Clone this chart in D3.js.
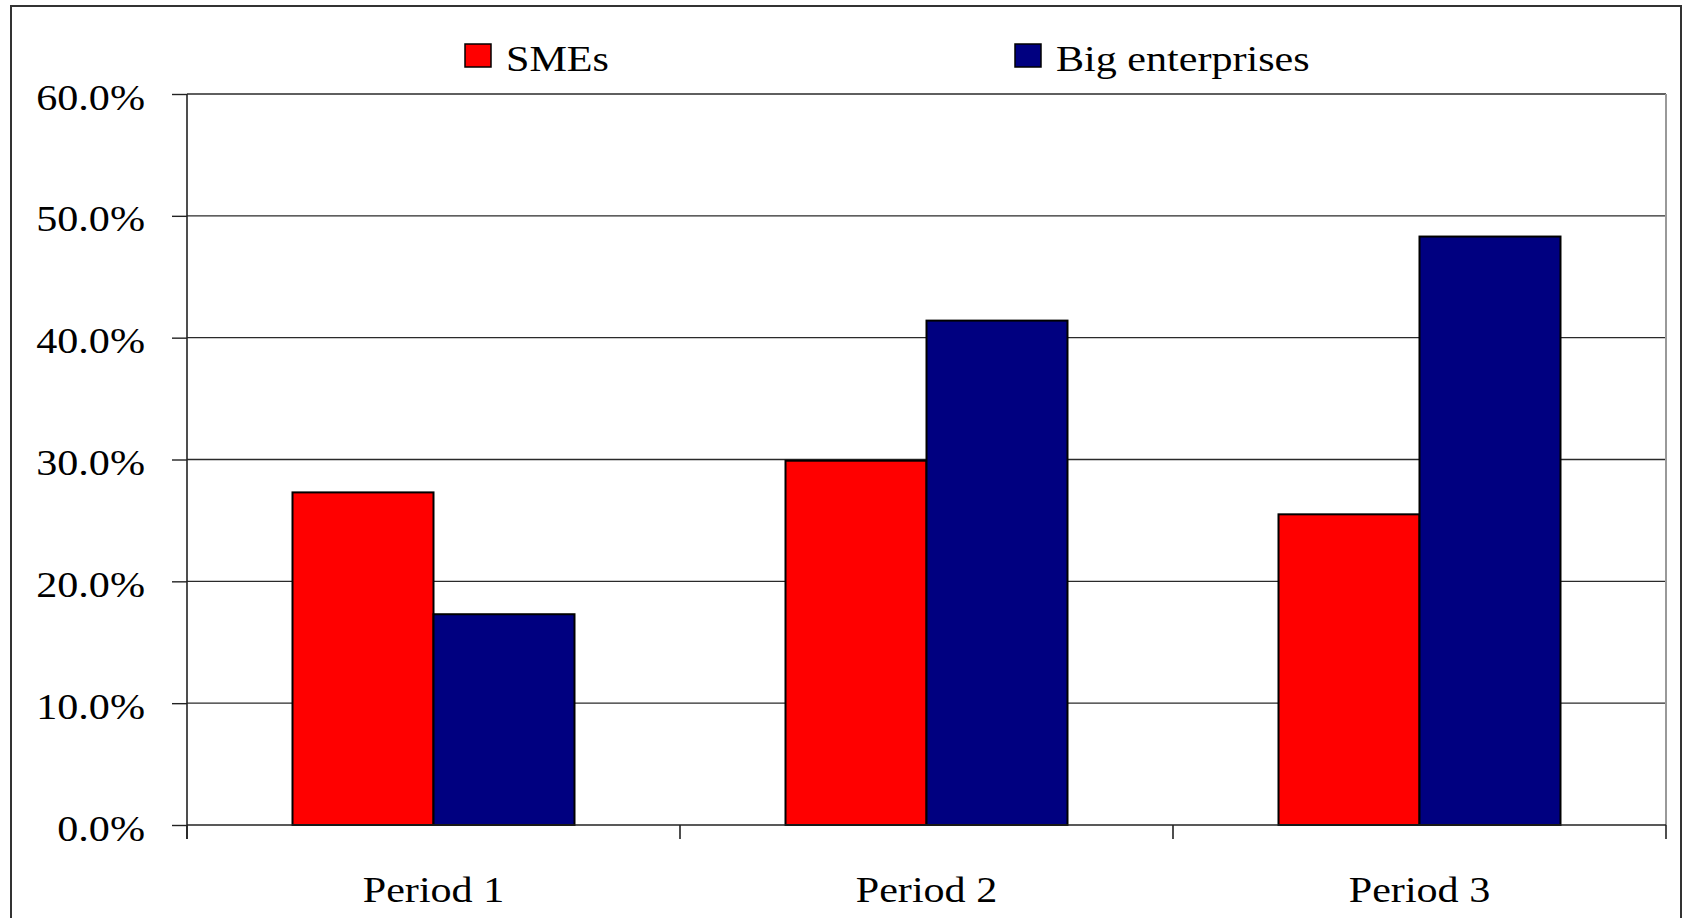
<!DOCTYPE html>
<html>
<head>
<meta charset="utf-8">
<script src="https://cdn.jsdelivr.net/npm/d3@7"></script>
<style>
  html, body { margin: 0; padding: 0; background: #fff; }
  svg { display: block; }
  text { font-family: "Liberation Serif", "Times New Roman", serif; fill: #000; }
</style>
</head>
<body>
<svg id="chart" width="1683" height="918"></svg>
<script>
// Share of enterprises per period
const periods = ["Period 1", "Period 2", "Period 3"];
const seriesNames = ["SMEs", "Big enterprises"];
const smeValues = [0.273, 0.299, 0.255];
const bigValues = [0.173, 0.414, 0.483];
const yTicks = [0, 0.1, 0.2, 0.3, 0.4, 0.5, 0.6];
const colors = ["#FF0000", "#000080"];

const W = 1683, H = 918;
const plot = { left: 187, right: 1666, top: 94, bottom: 825 };
const fontSize = 36, sx = 1.17;   // serif text, slightly widened

const svg = d3.select("#chart");

// outer chart frame
svg.append("rect")
  .attr("x", 11).attr("y", 6)
  .attr("width", 1670).attr("height", 930)
  .attr("fill", "#fff").attr("stroke", "#333").attr("stroke-width", 2);

const y = d3.scaleLinear().domain([0, 0.6]).range([plot.bottom, plot.top]);
const pad = 0.428;
const x0 = d3.scaleBand().domain(periods).range([plot.left, plot.right])
  .paddingInner(pad).paddingOuter(pad / 2);
const x1 = d3.scaleBand().domain(seriesNames).range([0, x0.bandwidth()]);
const step = x0.step();

// horizontal gridlines
svg.append("g").selectAll("line").data(yTicks.filter(d => d > 0)).join("line")
  .attr("x1", plot.left).attr("x2", plot.right)
  .attr("y1", d => y(d)).attr("y2", d => y(d))
  .attr("stroke", "#2a2a2a").attr("stroke-width", 1.4);

// right edge of plot area
svg.append("line")
  .attr("x1", plot.right).attr("x2", plot.right)
  .attr("y1", plot.top).attr("y2", plot.bottom)
  .attr("stroke", "#999").attr("stroke-width", 2);

// bars
const rows = periods.map((p, i) => ({ period: p, values: [smeValues[i], bigValues[i]] }));
svg.append("g").selectAll("g").data(rows).join("g")
  .attr("transform", d => `translate(${x0(d.period)},0)`)
  .selectAll("rect").data(d => d.values.map((v, j) => ({ key: seriesNames[j], v, j })))
  .join("rect")
  .attr("x", d => x1(d.key))
  .attr("y", d => y(d.v))
  .attr("width", x1.bandwidth())
  .attr("height", d => y(0) - y(d.v))
  .attr("fill", d => colors[d.j])
  .attr("stroke", "#000").attr("stroke-width", 2);

// y axis
const yAxis = d3.axisLeft(y).tickValues(yTicks).tickFormat(d3.format(".1%"))
  .tickSize(15).tickPadding(0);
const gy = svg.append("g").attr("transform", `translate(${plot.left},0)`).call(yAxis);
gy.select(".domain").remove();
gy.selectAll(".tick line").attr("stroke", "#222").attr("stroke-width", 1.4);
gy.append("line").attr("x1", 0).attr("x2", 0)
  .attr("y1", plot.top).attr("y2", plot.bottom + 14)
  .attr("stroke", "#222").attr("stroke-width", 1.6);
gy.selectAll(".tick text")
  .attr("x", 0).attr("dy", 0)
  .attr("transform", `translate(-42,15) scale(${sx},1)`)
  .style("font-family", "'Liberation Serif', 'Times New Roman', serif")
  .style("font-size", fontSize + "px")
  .attr("fill", "#000");

// x axis baseline and category boundary ticks
svg.append("line")
  .attr("x1", plot.left).attr("x2", plot.right)
  .attr("y1", y(0)).attr("y2", y(0))
  .attr("stroke", "#222").attr("stroke-width", 1.6);
const bounds = periods.map(p => x0(p) - step * pad / 2).concat([plot.right]);
svg.append("g").selectAll("line").data(bounds).join("line")
  .attr("x1", d => d).attr("x2", d => d)
  .attr("y1", y(0)).attr("y2", y(0) + 14)
  .attr("stroke", "#222").attr("stroke-width", 1.6);

// category labels
svg.append("g").selectAll("text").data(periods).join("text")
  .attr("transform", d => `translate(${x0(d) + x0.bandwidth() / 2},902) scale(${sx},1)`)
  .attr("text-anchor", "middle")
  .style("font-size", fontSize + "px")
  .text(d => d);

// legend
const legendX = [465, 1015];
const lg = svg.append("g").selectAll("g").data(seriesNames).join("g")
  .attr("transform", (d, i) => `translate(${legendX[i]},44)`);
lg.append("rect")
  .attr("x", 0).attr("y", 0).attr("width", 26).attr("height", 23)
  .attr("fill", (d, i) => colors[i]).attr("stroke", "#000").attr("stroke-width", 1.5);
lg.append("text")
  .attr("transform", `translate(41,27) scale(${sx},1)`)
  .style("font-size", fontSize + "px")
  .text(d => d);
</script>
</body>
</html>
